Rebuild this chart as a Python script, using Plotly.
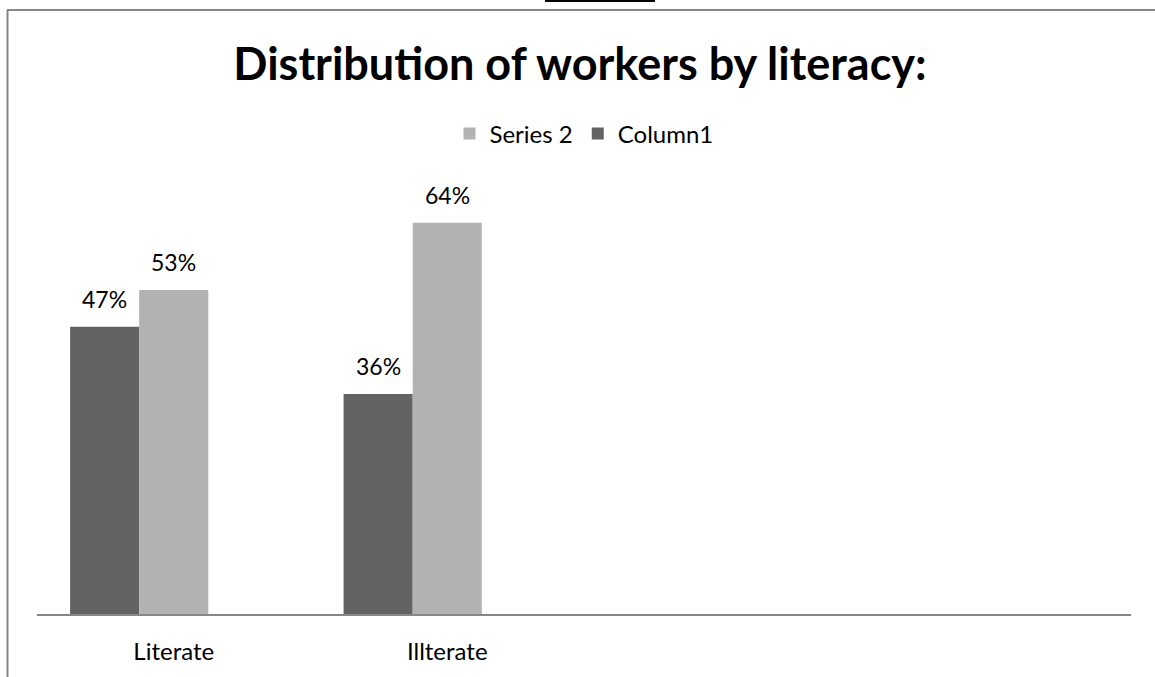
import plotly.graph_objects as go

# Data
categories = ["Literate", "Illterate", " ", "  "]
bar_categories = ["Literate", "Illterate"]
column1 = [0.47, 0.36]
series2 = [0.53, 0.64]

W, H = 1155, 677
FONT = "Lato"
DARK = "#636363"
LIGHT = "#b2b2b2"
FRAME = "#878787"

# plot area in pixels
x0_px, x1_px = 37, 1131
y_top_px, y_bot_px = 186, 614

def px(x):
    return x / W

def py(y):
    return 1 - y / H

bar_w = 0.2527  # share of a category slot per bar (three slots, third empty)

fig = go.Figure()
fig.add_trace(go.Bar(
    x=bar_categories, y=column1, name="Column1",
    marker=dict(color=DARK, line=dict(width=0)),
    width=bar_w, offset=-1.5 * bar_w, legendrank=2,
))
fig.add_trace(go.Bar(
    x=bar_categories, y=series2, name="Series 2",
    marker=dict(color=LIGHT, line=dict(width=0)),
    width=bar_w, offset=-0.5 * bar_w, legendrank=1,
))

# value labels above each bar
annotations = []
for i, cat in enumerate(bar_categories):
    for vals, off in ((column1, -1.0), (series2, 0.0)):
        annotations.append(dict(
            x=i + off * bar_w, y=vals[i], xref="x", yref="y",
            text=f"{round(vals[i] * 100)}%", showarrow=False,
            yanchor="bottom", yshift=12,
            font=dict(family=FONT, size=23, color="#000000"),
        ))

shapes = [
    # frame
    dict(type="line", xref="paper", yref="paper",
         x0=px(7), x1=px(W), y0=py(10), y1=py(10),
         line=dict(color=FRAME, width=2)),
    dict(type="line", xref="paper", yref="paper",
         x0=px(7.5), x1=px(7.5), y0=py(10), y1=py(H),
         line=dict(color=FRAME, width=2)),
    # rule above the frame
    dict(type="line", xref="paper", yref="paper",
         x0=px(545), x1=px(655), y0=py(1), y1=py(1),
         line=dict(color="#000000", width=2)),
]

fig.update_layout(
    width=W, height=H,
    margin=dict(l=0, r=0, t=0, b=0),
    paper_bgcolor="white", plot_bgcolor="white",
    barmode="overlay",
    title=dict(
        text="<b>Distribution of workers by literacy:</b>",
        x=px(580), xanchor="center", y=py(64), yanchor="middle",
        yref="paper", xref="paper",
        font=dict(family=FONT, size=45, color="#000000"),
    ),
    legend=dict(
        orientation="h", x=px(584), xanchor="center", y=py(134), yanchor="middle",
        font=dict(family=FONT, size=24, color="#000000"),
        itemwidth=30, bgcolor="rgba(0,0,0,0)",
    ),
    xaxis=dict(
        domain=[px(x0_px), px(x1_px)],
        type="category", categoryorder="array", categoryarray=categories,
        range=[-0.5, 3.5],
        showline=True, linecolor=FRAME, linewidth=2,
        showgrid=False, zeroline=False, ticks="",
        ticklabelstandoff=15,
        tickfont=dict(family=FONT, size=24, color="#000000"),
    ),
    yaxis=dict(
        domain=[py(y_bot_px), py(y_top_px)],
        range=[0, 0.70], visible=False, showgrid=False, zeroline=False,
    ),
    annotations=annotations,
    shapes=shapes,
    showlegend=True,
)

fig.write_html("out.html")
